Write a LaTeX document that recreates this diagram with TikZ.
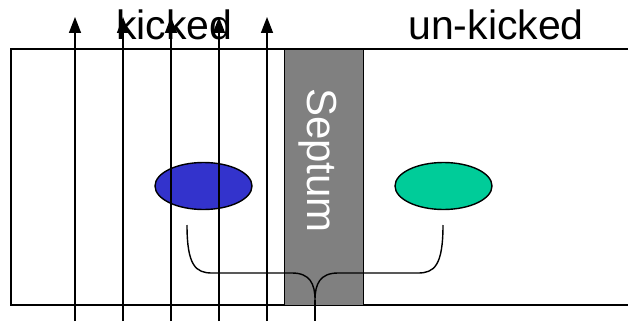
\documentclass[tikz,border=0pt]{standalone}
\usepackage{fontspec}
\setmainfont{Liberation Sans}
\usetikzlibrary{arrows.meta,shapes.geometric}
\definecolor{beamblue}{HTML}{3333CC}
\definecolor{beamgreen}{HTML}{00CC99}
\definecolor{septgray}{HTML}{808080}
\begin{document}
\begin{tikzpicture}[x=1pt,y=-1pt,
  frame/.style={line width=1.6pt,black},
  beam/.style={ellipse,draw=black,line width=1.4pt,minimum width=97pt,minimum height=47pt,inner sep=0pt},
  septumbox/.style={draw=black,line width=0.8pt,fill=septgray,minimum width=79pt,minimum height=256pt,inner sep=0pt},
  label/.style={font=\fontsize{41}{41}\selectfont,inner sep=0pt,anchor=base},
  kick/.style={line width=1.5pt,-{Triangle[length=16pt,width=12pt]}},
  brace/.style={line width=1.4pt}
]
\useasboundingbox (0,0) rectangle (628,321);
% outer frame (open on the right)
\draw[frame] (628,49) -- (11,49) -- (11,305) -- (628,305);
% septum
\node[septumbox] (septum) at (323.5,177) {};
\node[label,text=white,rotate=-90,font=\fontsize{42}{42}\selectfont] (septumtext) at (307.5,160.5) {Septum};
% beams
\node[beam,fill=beamblue] (blue) at (203.5,186) {};
\node[beam,fill=beamgreen] (green) at (443.5,186) {};
% brace
\coordinate (bl) at (187,225);
\coordinate (br) at (443,225);
\coordinate (bm) at (315,300);
\coordinate (bt) at (315,321);
\draw[brace] (bl) .. controls (187,266) and (196,273) .. (212,273) -- (292,273)
  .. controls (310,273) and (315,284) .. (bm)
  .. controls (315,284) and (320,273) .. (338,273) -- (418,273)
  .. controls (434,273) and (443,266) .. (br);
\draw[brace] (bm) -- (bt);
% labels
\node[label] (kicked) at (174.5,40) {kicked};
\node[label] (unkicked) at (496,40) {un-kicked};
% kicked trajectories
\foreach \i/\x in {1/75,2/123,3/171,4/219,5/267}{
  \coordinate (s\i) at (\x,321);
  \coordinate (e\i) at (\x,17);
  \draw[kick] (s\i) -- (e\i);
}
\end{tikzpicture}
\end{document}
